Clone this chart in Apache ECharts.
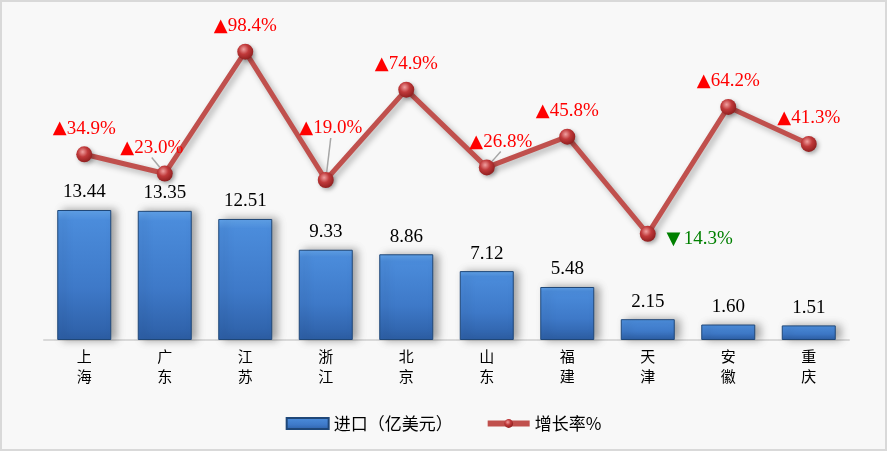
<!DOCTYPE html>
<html>
<head>
<meta charset="utf-8">
<script src="https://cdn.jsdelivr.net/npm/echarts@6/dist/echarts.min.js"></script>
<style>
html,body{margin:0;padding:0;background:#f8f8f8;}
#c{width:887px;height:451px;}
</style>
</head>
<body>
<div id="c"></div>
<script>
const categories = ['上海','广东','江苏','浙江','北京','山东','福建','天津','安徽','重庆'];
const importValues = [13.44, 13.35, 12.51, 9.33, 8.86, 7.12, 5.48, 2.15, 1.60, 1.51];
const growthRates = [34.9, 23.0, 98.4, 19.0, 74.9, 26.8, 45.8, -14.3, 64.2, 41.3];
const seriesNames = ['进口（亿美元）', '增长率%'];

// label displacement for some growth labels (pixels)
const labelShift = {1: [-13, 0], 3: [5, -26], 5: [14, 0], 7: [52, 31]};
const withGuide = [1, 3, 5];

const chart = echarts.init(document.getElementById('c'));
const serif = '"Liberation Serif","DejaVu Serif",serif';
const cjk = '"Noto Sans CJK SC",sans-serif';

const lineData = growthRates.map((v, i) => withGuide.indexOf(i) >= 0
  ? {value: v, labelLine: {show: true, lineStyle: {color: '#a6a6a6', width: 1.5}}}
  : v);

chart.setOption({
  backgroundColor: '#f8f8f8',
  animation: false,
  graphic: [{
    type: 'rect', silent: true,
    shape: {x: 1, y: 1, width: 885, height: 449},
    style: {fill: 'none', stroke: '#d9d9d9', lineWidth: 2}
  }],
  grid: {left: 44, right: 38, top: 20, bottom: 111},
  legend: {
    top: 410, left: 'center', itemGap: 32, itemWidth: 42, itemHeight: 11,
    textStyle: {fontFamily: cjk, fontSize: 17, color: '#000'},
    data: [
      {name: seriesNames[0], icon: 'rect'},
      {name: seriesNames[1], lineStyle: {width: 6}}
    ]
  },
  xAxis: {
    type: 'category', data: categories,
    axisLine: {lineStyle: {color: '#d9d9d9', width: 2}},
    axisTick: {show: false},
    axisLabel: {
      color: '#000', fontFamily: cjk, fontSize: 15, lineHeight: 20, margin: 6,
      formatter: v => v.split('').join('\n')
    }
  },
  yAxis: [
    {type: 'value', min: 0, max: 33.08, show: false, splitLine: {show: false}},
    {type: 'value', min: -80, max: 118, show: false, splitLine: {show: false}}
  ],
  series: [
    {
      name: seriesNames[0], type: 'bar', data: importValues, barWidth: 54,
      itemStyle: {
        color: new echarts.graphic.LinearGradient(0, 0, 0, 1, [
          {offset: 0, color: '#62a4ec'},
          {offset: 0.08, color: '#4b8cdb'},
          {offset: 0.6, color: '#3e79c8'},
          {offset: 1, color: '#2d5fa6'}
        ]),
        borderColor: '#1f4778', borderWidth: 1,
        shadowColor: 'rgba(0,0,0,0.35)', shadowBlur: 8, shadowOffsetX: 5
      },
      label: {
        show: true, position: 'top', distance: 8,
        fontFamily: serif, fontSize: 19, color: '#000',
        formatter: p => p.value.toFixed(2)
      }
    },
    {
      name: seriesNames[1], type: 'line', yAxisIndex: 1, data: lineData,
      symbol: 'circle', symbolSize: 16, z: 5,
      lineStyle: {
        color: '#c0504d', width: 5,
        shadowColor: 'rgba(0,0,0,0.3)', shadowBlur: 6, shadowOffsetX: 3, shadowOffsetY: 3
      },
      itemStyle: {
        color: new echarts.graphic.RadialGradient(0.4, 0.35, 0.7, [
          {offset: 0, color: '#f0a0a0'},
          {offset: 0.45, color: '#c0393a'},
          {offset: 1, color: '#8a1c1c'}
        ]),
        shadowColor: 'rgba(0,0,0,0.3)', shadowBlur: 4, shadowOffsetX: 2, shadowOffsetY: 2
      },
      label: {
        show: true, position: 'top', distance: 8,
        formatter: p => p.value >= 0
          ? '{u|▲}{r|' + p.value.toFixed(1) + '%}'
          : '{d|▼} {g|' + Math.abs(p.value).toFixed(1) + '%}',
        rich: {
          u: {color: '#ff0000', fontSize: 18, fontFamily: '"DejaVu Sans",sans-serif'},
          r: {color: '#ff0000', fontSize: 19, fontFamily: serif},
          d: {color: '#008000', fontSize: 18, fontFamily: '"DejaVu Sans",sans-serif'},
          g: {color: '#008000', fontSize: 19, fontFamily: serif}
        }
      },
      labelLayout: function (params) {
        const s = labelShift[params.dataIndex];
        return s ? {dx: s[0], dy: s[1]} : {};
      },
      labelLine: {show: false, lineStyle: {color: '#a6a6a6', width: 1.5}},
      emphasis: {disabled: true}
    }
  ]
});
</script>
</body>
</html>
